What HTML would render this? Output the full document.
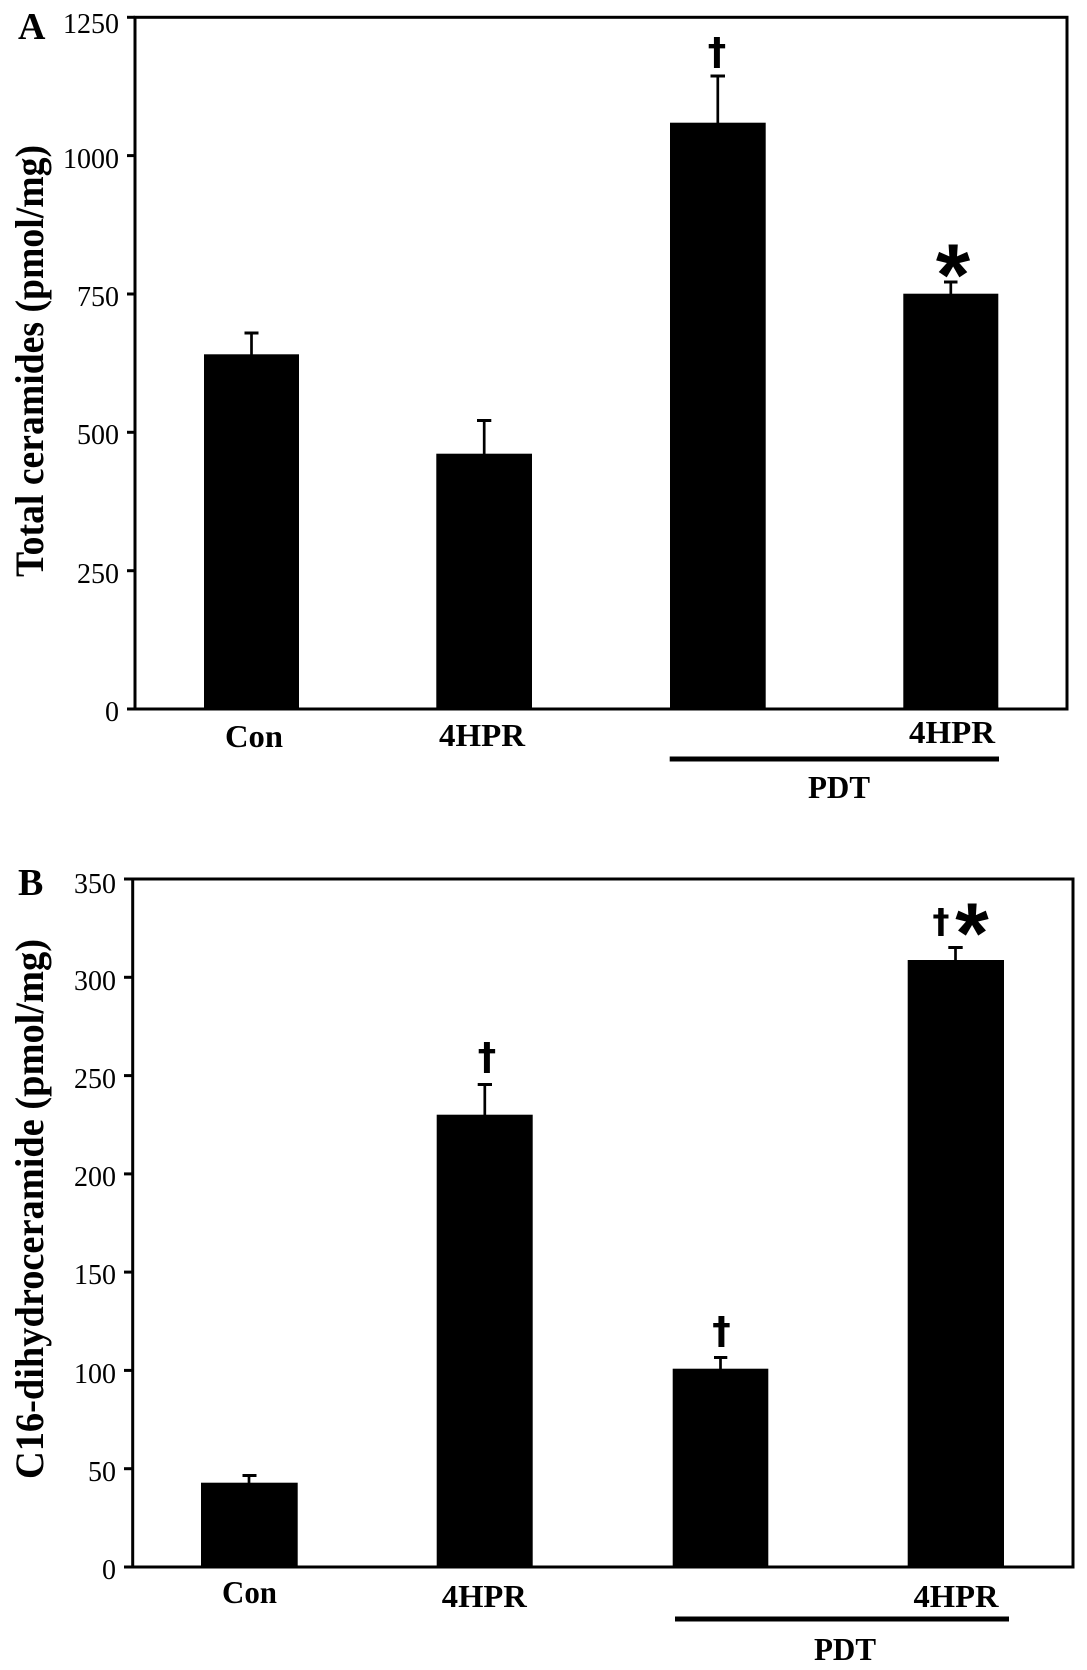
<!DOCTYPE html>
<html><head><meta charset="utf-8"><style>
html,body{margin:0;padding:0;background:#fff;}
svg{display:block;}
.tk{font-family:"Liberation Serif",serif;font-size:28px;fill:#000;}
.bl{font-family:"Liberation Serif",serif;font-weight:bold;fill:#000;}
.sym{font-family:"Liberation Sans",sans-serif;font-weight:bold;fill:#000;}
.dg{font-family:"DejaVu Sans",sans-serif;font-weight:bold;fill:#000;}
</style></head><body>
<svg width="1087" height="1670" viewBox="0 0 1087 1670" xmlns="http://www.w3.org/2000/svg">
<rect x="0" y="0" width="1087" height="1670" fill="#fff"/>

<!-- Panel A -->
<text class="bl" x="18" y="39" font-size="38">A</text>
<rect x="135" y="17.3" width="932" height="691.7" fill="none" stroke="#000" stroke-width="3"/>
<g stroke="#000" stroke-width="3">
<line x1="127" y1="17.3" x2="135" y2="17.3"/>
<line x1="127" y1="155.6" x2="135" y2="155.6"/>
<line x1="127" y1="294" x2="135" y2="294"/>
<line x1="127" y1="432.3" x2="135" y2="432.3"/>
<line x1="127" y1="570.7" x2="135" y2="570.7"/>
<line x1="127" y1="709" x2="135" y2="709"/>
</g>
<g class="tk" text-anchor="end">
<text x="119" y="33">1250</text>
<text x="119" y="168">1000</text>
<text x="119" y="306">750</text>
<text x="119" y="444">500</text>
<text x="119" y="583">250</text>
<text x="119" y="721">0</text>
</g>
<text class="bl" font-size="40" text-anchor="middle" transform="translate(43,361) rotate(-90)" textLength="432" lengthAdjust="spacingAndGlyphs">Total ceramides (pmol/mg)</text>

<g fill="#000">
<rect x="204" y="354.3" width="95" height="354.7"/>
<rect x="436.3" y="453.7" width="95.7" height="255.3"/>
<rect x="670" y="122.7" width="95.7" height="586.3"/>
<rect x="903.3" y="293.7" width="95" height="415.3"/>
</g>
<g stroke="#000" stroke-width="2.7">
<line x1="251.5" y1="333" x2="251.5" y2="355"/>
<line x1="244.5" y1="333" x2="258.5" y2="333" stroke-width="3"/>
<line x1="484.2" y1="420.5" x2="484.2" y2="454"/>
<line x1="477" y1="420.5" x2="491.3" y2="420.5" stroke-width="3"/>
<line x1="717.8" y1="76" x2="717.8" y2="123"/>
<line x1="710.5" y1="76" x2="725" y2="76" stroke-width="3"/>
<line x1="950.8" y1="282" x2="950.8" y2="294"/>
<line x1="944" y1="282" x2="957.5" y2="282" stroke-width="3"/>
</g>
<text class="dg" x="717" y="64.5" font-size="37" text-anchor="middle">†</text>
<text class="sym" x="953" y="305" font-size="88" text-anchor="middle">*</text>

<g class="bl" font-size="32" text-anchor="middle">
<text x="254" y="747" textLength="58" lengthAdjust="spacingAndGlyphs">Con</text>
<text x="482" y="746" textLength="86" lengthAdjust="spacingAndGlyphs">4HPR</text>
<text x="952" y="743" textLength="86" lengthAdjust="spacingAndGlyphs">4HPR</text>
<text x="839" y="798" textLength="62" lengthAdjust="spacingAndGlyphs">PDT</text>
</g>
<rect x="669.7" y="756.5" width="329.3" height="5" fill="#000"/>

<!-- Panel B -->
<text class="bl" x="18" y="895" font-size="38">B</text>
<rect x="132.7" y="879" width="940.3" height="688" fill="none" stroke="#000" stroke-width="3"/>
<g stroke="#000" stroke-width="3">
<line x1="124" y1="879" x2="132.7" y2="879"/>
<line x1="124" y1="977.3" x2="132.7" y2="977.3"/>
<line x1="124" y1="1075.6" x2="132.7" y2="1075.6"/>
<line x1="124" y1="1173.9" x2="132.7" y2="1173.9"/>
<line x1="124" y1="1272.1" x2="132.7" y2="1272.1"/>
<line x1="124" y1="1370.4" x2="132.7" y2="1370.4"/>
<line x1="124" y1="1468.7" x2="132.7" y2="1468.7"/>
<line x1="124" y1="1567" x2="132.7" y2="1567"/>
</g>
<g class="tk" text-anchor="end">
<text x="116" y="893">350</text>
<text x="116" y="990">300</text>
<text x="116" y="1088">250</text>
<text x="116" y="1186">200</text>
<text x="116" y="1284">150</text>
<text x="116" y="1383">100</text>
<text x="116" y="1481">50</text>
<text x="116" y="1579">0</text>
</g>
<text class="bl" font-size="40" text-anchor="middle" transform="translate(43,1209) rotate(-90)" textLength="540" lengthAdjust="spacingAndGlyphs">C16-dihydroceramide (pmol/mg)</text>

<g fill="#000">
<rect x="201" y="1482.7" width="96.7" height="84.3"/>
<rect x="436.7" y="1114.7" width="96" height="452.3"/>
<rect x="672.7" y="1368.7" width="95.6" height="198.3"/>
<rect x="907.7" y="960" width="96.3" height="607"/>
</g>
<g stroke="#000" stroke-width="2.7">
<line x1="249" y1="1475.5" x2="249" y2="1483"/>
<line x1="242.5" y1="1475.5" x2="256.5" y2="1475.5" stroke-width="3"/>
<line x1="484.8" y1="1084.5" x2="484.8" y2="1115"/>
<line x1="477.7" y1="1084.5" x2="492" y2="1084.5" stroke-width="3"/>
<line x1="720.5" y1="1357.5" x2="720.5" y2="1369"/>
<line x1="714" y1="1357.5" x2="727.3" y2="1357.5" stroke-width="3"/>
<line x1="955.5" y1="947.5" x2="955.5" y2="960.5"/>
<line x1="948.3" y1="947.5" x2="962.7" y2="947.5" stroke-width="3"/>
</g>
<text class="dg" x="487" y="1069.5" font-size="37" text-anchor="middle">†</text>
<text class="dg" x="721.5" y="1343.5" font-size="37" text-anchor="middle">†</text>
<text class="dg" x="941" y="932.5" font-size="34" text-anchor="middle">†</text>
<text class="sym" x="972" y="963" font-size="86" text-anchor="middle">*</text>

<g class="bl" font-size="32" text-anchor="middle">
<text x="249.5" y="1603" textLength="55" lengthAdjust="spacingAndGlyphs">Con</text>
<text x="484.3" y="1607" textLength="85" lengthAdjust="spacingAndGlyphs">4HPR</text>
<text x="956" y="1607" textLength="85" lengthAdjust="spacingAndGlyphs">4HPR</text>
<text x="845" y="1660" textLength="62" lengthAdjust="spacingAndGlyphs">PDT</text>
</g>
<rect x="675" y="1616.5" width="334" height="5" fill="#000"/>
</svg>
</body></html>
